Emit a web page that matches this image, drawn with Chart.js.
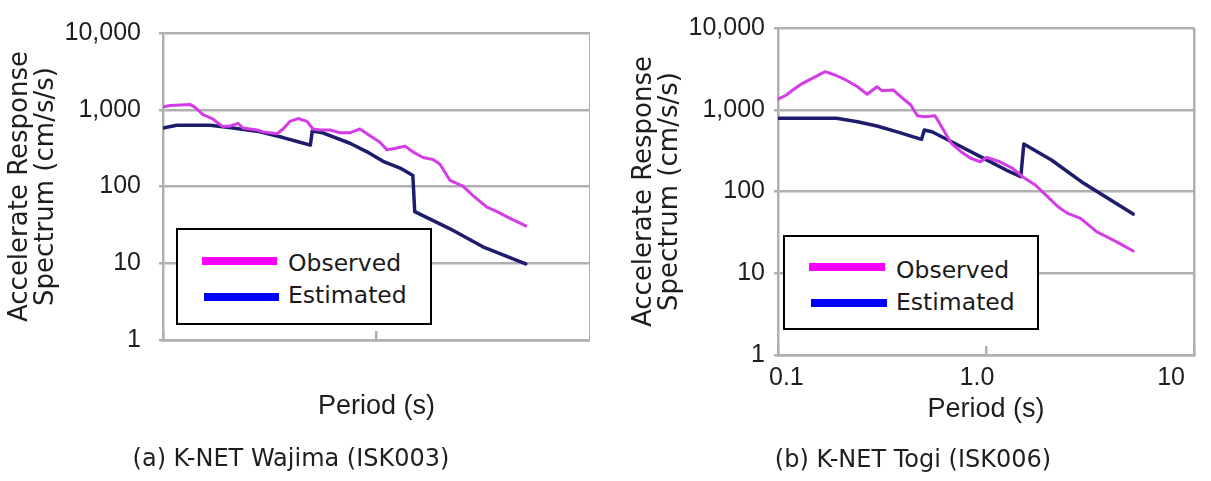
<!DOCTYPE html>
<html>
<head>
<meta charset="utf-8">
<script src="https://cdn.jsdelivr.net/npm/chart.js@4.4.1/dist/chart.umd.min.js"></script>
<style>
  html, body { margin: 0; padding: 0; background: #fff; }
  #wrap { position: relative; width: 1211px; height: 481px; overflow: hidden; background: #fff; }
  canvas { position: absolute; top: 0; }
  .lgbox { position: absolute; border: 2px solid #000; background: #fff; box-sizing: border-box; }
  .sw { position: absolute; height: 8px; }
  .lt { position: absolute; height: 30px; line-height: 30px; font-family: 'DejaVu Sans', sans-serif; font-size: 23.5px; color: #1a1a1a; white-space: nowrap; }
</style>
</head>
<body>
<div id="wrap">
  <canvas id="ca" width="598" height="481" style="left:-8px"></canvas>
  <canvas id="cb" width="592" height="481" style="left:619px"></canvas>

  <div class="lgbox" style="left:176px;top:228px;width:256px;height:97px"></div>
  <div class="sw" style="left:202px;top:257px;width:75px;background:#ff00ff"></div>
  <div class="sw" style="left:204px;top:293px;width:75px;background:#0000ff"></div>
  <div class="lt" style="left:288px;top:248px">Observed</div>
  <div class="lt" style="left:288px;top:280px">Estimated</div>

  <div class="lgbox" style="left:783px;top:235px;width:256px;height:95px"></div>
  <div class="sw" style="left:809px;top:263px;width:76px;background:#ff00ff"></div>
  <div class="sw" style="left:811px;top:299px;width:76px;background:#0000ff"></div>
  <div class="lt" style="left:896px;top:255px">Observed</div>
  <div class="lt" style="left:896px;top:287px">Estimated</div>
</div>
<script>
// ---- data ----
const yTicks = [1, 10, 100, 1000, 10000];
const yTickLabels = ['1', '10', '100', '1,000', '10,000'];
const xTicks = [0.1, 1, 10];
const xTickLabels = ['0.1', '1.0', '10'];
const seriesNames = ['Observed', 'Estimated'];
const captions = ['(a) K-NET Wajima (ISK003)', '(b) K-NET Togi (ISK006)'];
const xTitle = 'Period (s)';
const yTitle = ['Accelerate Response', 'Spectrum (cm/s/s)'];

// (a) K-NET Wajima
const obsA_T = [0.1, 0.108, 0.134, 0.141, 0.154, 0.170, 0.189, 0.206, 0.2245, 0.237, 0.276, 0.294, 0.342, 0.365, 0.393, 0.429, 0.4725, 0.504, 0.544, 0.606, 0.675, 0.751, 0.837, 0.932, 1.038, 1.12, 1.247, 1.36, 1.48, 1.651, 1.839, 1.984, 2.21, 2.54, 2.83, 3.29, 3.67, 4.22, 5.0];
const obsA_V = [1082, 1135, 1168, 1082, 861, 768, 611, 611, 666, 578, 545, 515, 487, 562, 705, 768, 705, 562, 545, 545, 501, 501, 562, 460, 377, 300, 317, 336, 283, 239, 225, 195, 120, 101, 76, 54, 47, 38.5, 30.6];
const estA_T = [0.1, 0.116, 0.166, 0.213, 0.285, 0.365, 0.438, 0.49, 0.5, 0.56, 0.751, 0.903, 1.073, 1.29, 1.48, 1.51, 2.21, 3.15, 5.0];
const estA_V = [578, 629, 629, 578, 515, 434, 377, 346, 530, 501, 366, 283, 213, 174, 139, 47, 28.1, 16.4, 9.8];

// (b) K-NET Togi
const obsB_T = [0.1, 0.1098, 0.1178, 0.1312, 0.146, 0.1687, 0.1878, 0.209, 0.2412, 0.2685, 0.299, 0.3154, 0.3576, 0.398, 0.435, 0.4677, 0.511, 0.569, 0.6115, 0.681, 0.758, 0.844, 0.94, 1.009, 1.165, 1.343, 1.496, 1.725, 1.92, 2.218, 2.47, 2.85, 3.41, 3.93, 4.38, 5.1];
const obsB_V = [1343, 1514, 1745, 2106, 2425, 2921, 2661, 2358, 1914, 1545, 1914, 1710, 1745, 1380, 1143, 846, 822, 846, 620, 389, 307, 255, 231, 262, 231, 192, 152, 120, 93, 65, 54, 47, 32, 26.8, 23.2, 18.7];
const estB_T = [0.1, 0.1266, 0.191, 0.2412, 0.299, 0.3705, 0.49, 0.505, 0.5495, 0.7057, 0.94, 1.25, 1.47, 1.52, 2.064, 2.95, 5.1];
const estB_V = [786, 786, 786, 714, 633, 539, 435, 565, 539, 389, 267, 183, 152, 381, 243, 126, 53];

// ---- styling ----
const GRID = '#b0b0b0';
const TXT = '#1e1e1e';
const OBS_COLOR = '#d43ce8';
const EST_COLOR = '#1e1d6c';

Chart.defaults.font.family = "'DejaVu Sans', sans-serif";

function pts(T, V) { return T.map((t, i) => ({ x: t, y: V[i] })); }

function makeChart(id, opt) {
  return new Chart(document.getElementById(id), {
    type: 'line',
    data: {
      datasets: [
        { label: seriesNames[0], data: pts(opt.obsT, opt.obsV), borderColor: OBS_COLOR, borderWidth: 3, pointRadius: 0, tension: 0, fill: false, borderCapStyle: 'round', borderJoinStyle: 'round' },
        { label: seriesNames[1], data: pts(opt.estT, opt.estV), borderColor: EST_COLOR, borderWidth: 3.5, pointRadius: 0, tension: 0, fill: false, borderCapStyle: 'round', borderJoinStyle: 'round' }
      ]
    },
    options: {
      responsive: false,
      animation: false,
      devicePixelRatio: 1,
      layout: { padding: opt.padding },
      plugins: {
        legend: { display: false },
        tooltip: { enabled: false },
        title: {
          display: true, position: 'bottom', text: opt.caption, color: TXT,
          font: { family: "'DejaVu Sans', sans-serif", size: 24, weight: 'normal', lineHeight: 1.2 },
          padding: 0
        }
      },
      scales: {
        x: {
          type: 'logarithmic', min: 0.1, max: 10,
          afterBuildTicks: s => { s.ticks = xTicks.map(v => ({ value: v })); },
          afterFit: s => { s.height = opt.xHeight; },
          ticks: {
            display: opt.showXLabels, autoSkip: false, maxRotation: 0,
            callback: (v, i) => xTickLabels[i],
            font: { family: "'Liberation Sans', Arial, sans-serif", size: 25 }, color: TXT,
            padding: 17, align: 'inner', labelOffset: -9
          },
          grid: {
            drawOnChartArea: true,
            color: ctx => (ctx.tick && ctx.tick.value === 10) ? GRID : 'rgba(0,0,0,0)',
            tickColor: GRID, lineWidth: 2.5, drawTicks: true, tickLength: -9
          },
          border: { display: true, color: GRID, width: 2.5 },
          title: {
            display: true, text: xTitle, color: TXT,
            font: { family: "'Liberation Sans', Arial, sans-serif", size: 27, lineHeight: 1.2 },
            padding: { top: 0, bottom: opt.xTitlePad }
          }
        },
        y: {
          type: 'logarithmic', min: 1, max: 10000,
          afterBuildTicks: s => { s.ticks = yTicks.map(v => ({ value: v })); },
          afterFit: s => { s.width = opt.yWidth; },
          ticks: {
            autoSkip: false,
            callback: (v, i) => yTickLabels[i],
            font: { family: "'Liberation Sans', Arial, sans-serif", size: 25 }, color: TXT,
            padding: opt.yTickPad
          },
          grid: { color: GRID, lineWidth: 2.5, drawTicks: true, tickLength: 4, tickColor: GRID },
          border: { display: true, color: GRID, width: 2.5 },
          title: {
            display: true, text: yTitle, color: TXT,
            font: { family: "'DejaVu Sans', sans-serif", size: 26, lineHeight: 1 },
            padding: { top: opt.yTitlePad, bottom: 0 }
          }
        }
      }
    }
  });
}

makeChart('ca', {
  obsT: obsA_T, obsV: obsA_V, estT: estA_T, estV: estA_V,
  caption: captions[0],
  padding: { top: 17, left: 0, right: 0, bottom: 6.6 },
  xHeight: 105.6, yWidth: 171, showXLabels: false,
  xTitlePad: 22.4, yTickPad: 18, yTitlePad: 15
});

makeChart('cb', {
  obsT: obsB_T, obsV: obsB_V, estT: estB_T, estV: estB_V,
  caption: captions[1],
  padding: { top: 28, left: 0, right: 4, bottom: 5.6 },
  xHeight: 91.6, yWidth: 159, showXLabels: true,
  xTitlePad: 20.4, yTickPad: 9, yTitlePad: 12
});
</script>
</body>
</html>
